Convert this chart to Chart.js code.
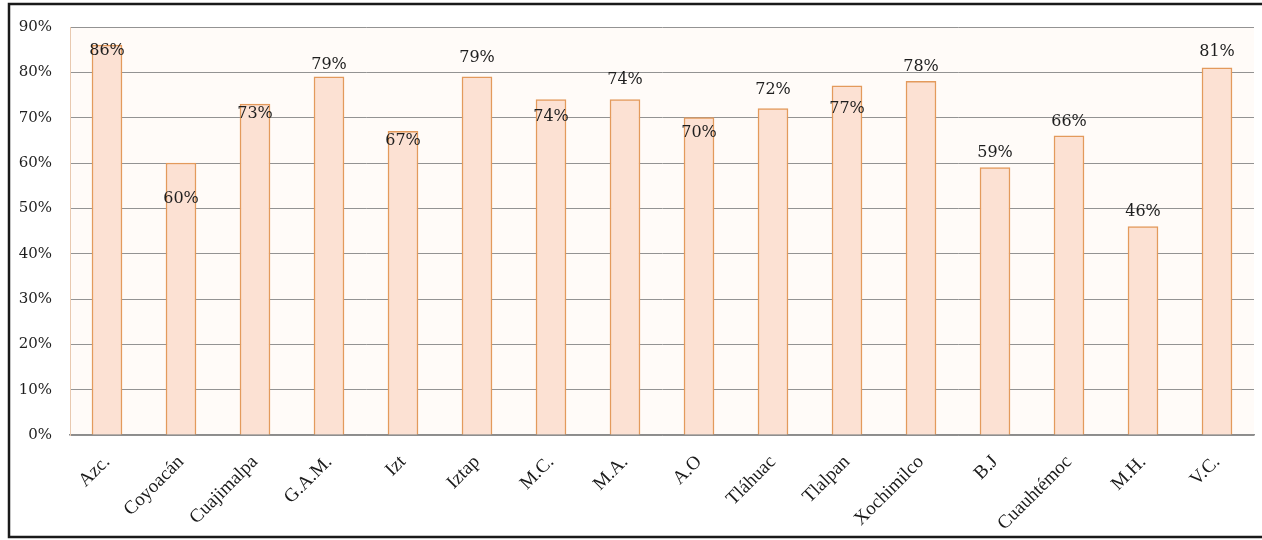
<!DOCTYPE html>
<html>
<head>
<meta charset="utf-8">
<script src="https://cdn.jsdelivr.net/npm/chart.js@4.4.1/dist/chart.umd.min.js"></script>
<style>
  html, body { margin: 0; padding: 0; background: #fff; }
  #wrap { position: relative; width: 1262px; height: 540px; }
</style>
</head>
<body>
<div id="wrap"><canvas id="chart" width="1262" height="540"></canvas></div>
<script>
const categories = ["Azc.", "Coyoacán", "Cuajimalpa", "G.A.M.", "Izt", "Iztap", "M.C.", "M.A.",
  "A.O", "Tláhuac", "Tlalpan", "Xochimilco", "B.J", "Cuauhtémoc", "M.H.", "V.C."];
const percentages = [86, 60, 73, 79, 67, 79, 74, 74, 70, 72, 77, 78, 59, 66, 46, 81];
const yTicks = [0, 10, 20, 30, 40, 50, 60, 70, 80, 90];

// where each value label sits relative to its bar top (px, + is down)
const labelShift = [6, 36, 10, -12, 10, -19, 17, -20, 15, -19, 23, -15, -15, -14, -15, -16];

const frame = {
  id: "frame",
  beforeDraw(chart) {
    const { ctx, chartArea: a } = chart;
    ctx.save();
    ctx.fillStyle = "#fffbf8";
    ctx.fillRect(a.left, a.top, a.right - a.left, a.bottom - a.top);
    ctx.strokeStyle = "#1a1a1a";
    ctx.lineWidth = 2.5;
    ctx.beginPath();
    ctx.moveTo(1270, 4);
    ctx.lineTo(9, 4);
    ctx.lineTo(9, 537);
    ctx.lineTo(1270, 537);
    ctx.stroke();
    ctx.restore();
  }
};

const valueLabels = {
  id: "valueLabels",
  afterDatasetsDraw(chart) {
    const { ctx } = chart;
    const meta = chart.getDatasetMeta(0);
    ctx.save();
    ctx.font = "16px 'DejaVu Serif'";
    ctx.fillStyle = "#1e1e1e";
    ctx.textAlign = "center";
    ctx.textBaseline = "middle";
    meta.data.forEach((bar, i) => {
      ctx.fillText(percentages[i] + "%", bar.x, bar.y + labelShift[i]);
    });
    ctx.restore();
  }
};

new Chart(document.getElementById("chart"), {
  type: "bar",
  data: {
    labels: categories,
    datasets: [{
      data: percentages,
      backgroundColor: "#fce1d3",
      borderColor: "#e39a5c",
      borderWidth: 1.5,
      barThickness: 30
    }]
  },
  options: {
    responsive: false,
    animation: false,
    devicePixelRatio: 1,
    layout: { padding: { top: 26, right: 8, left: 0, bottom: 0 } },
    plugins: { legend: { display: false }, tooltip: { enabled: false } },
    scales: {
      x: {
        grid: { display: false },
        border: { color: "#8c8c8c", width: 1.5 },
        ticks: {
          color: "#1a1a1a",
          font: { family: "'Liberation Serif'", size: 19 },
          maxRotation: 45,
          minRotation: 45,
          padding: 8
        },
        afterFit(scale) { scale.height = 105; }
      },
      y: {
        min: 0,
        max: 90,
        afterBuildTicks(scale) { scale.ticks = yTicks.map(v => ({ value: v })); },
        grid: { color: "#939393", lineWidth: 1, drawTicks: false },
        border: { color: "#e8c9b0", width: 1 },
        ticks: {
          color: "#1e1e1e",
          font: { family: "'DejaVu Serif'", size: 15 },
          padding: 18,
          callback: v => v + "%"
        },
        afterFit(scale) { scale.width = 70; }
      }
    }
  },
  plugins: [frame, valueLabels]
});
</script>
</body>
</html>
